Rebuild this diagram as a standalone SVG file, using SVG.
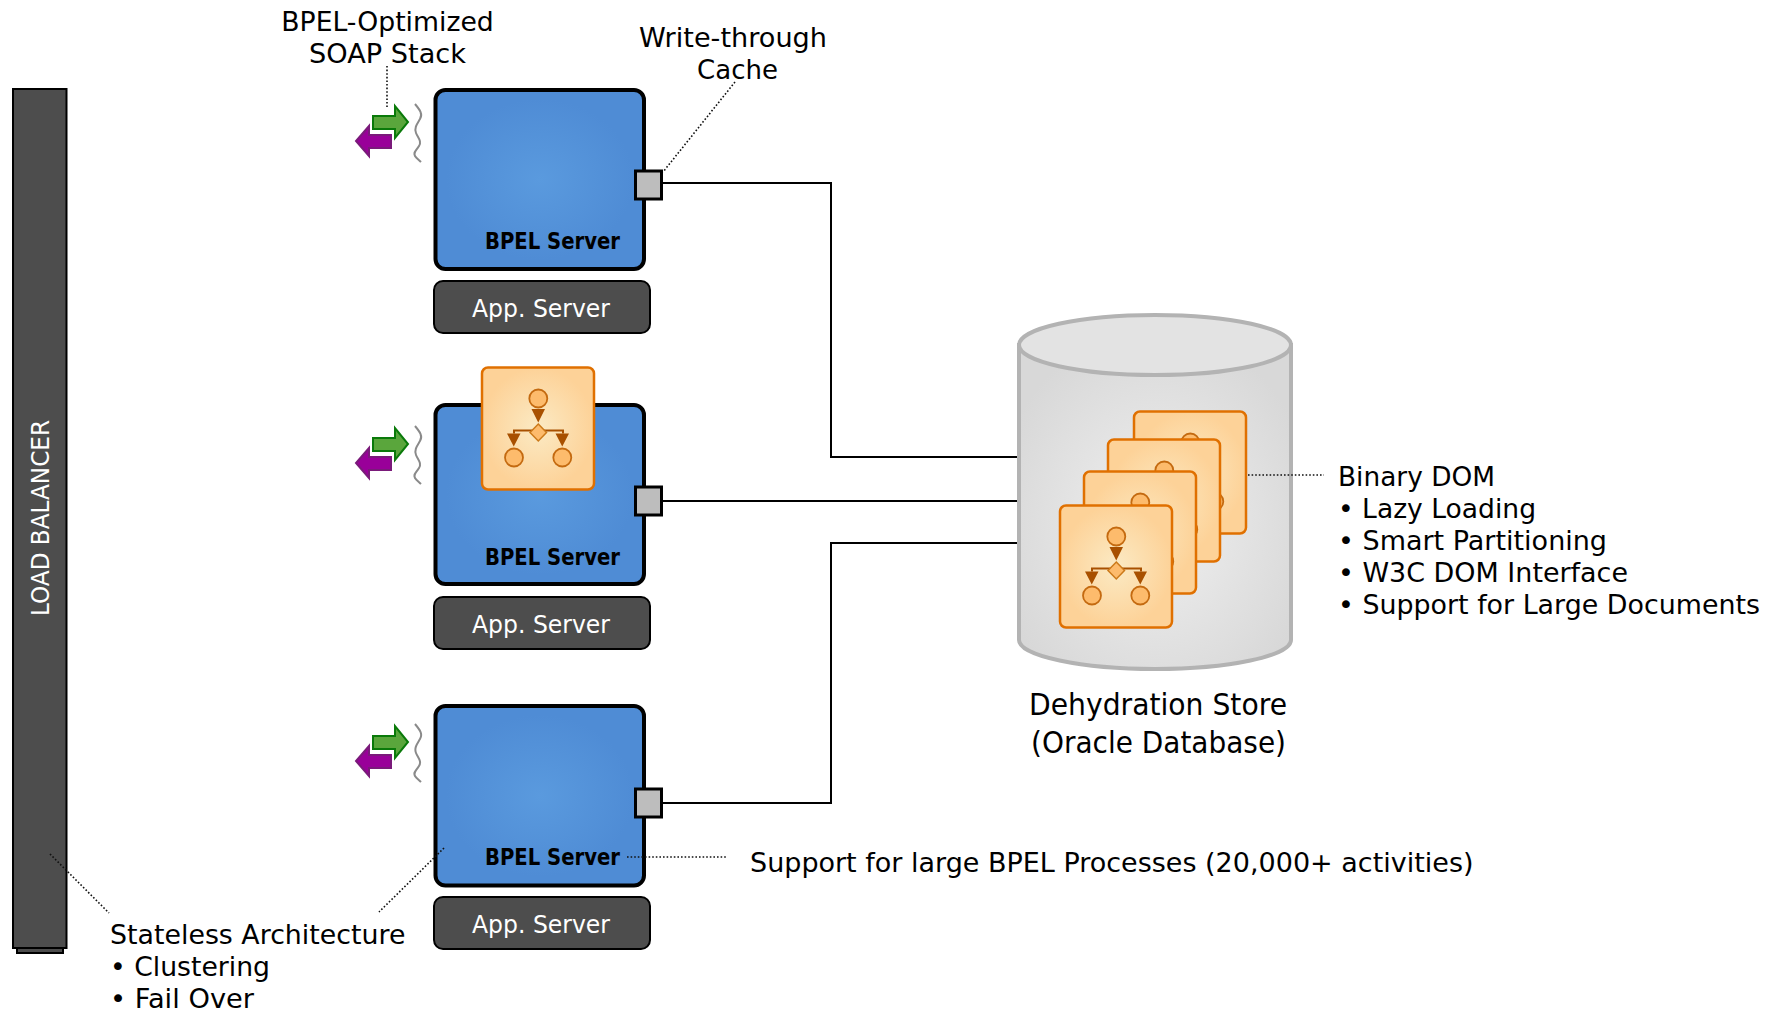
<svg xmlns="http://www.w3.org/2000/svg" xmlns:xlink="http://www.w3.org/1999/xlink" width="1782" height="1011" viewBox="0 0 1782 1011">
<style>
text{font-family:"DejaVu Sans",Verdana,sans-serif;fill:#000}
.l{font-size:26.5px}
.srv{fill:url(#blue);stroke:#000;stroke-width:4}
.app{fill:#4d4d4d;stroke:#000;stroke-width:2}
.port{fill:#bdbdbd;stroke:#000;stroke-width:3}
.wire{fill:none;stroke:#000;stroke-width:2}
.dot{fill:none;stroke:#111;stroke-width:1.6;stroke-dasharray:1.6 2}
.wave{fill:none;stroke:#8a8a8a;stroke-width:2}
.gr{fill:#5aa63c;stroke:#0a7a0a;stroke-width:2}
.pu{fill:#990099;stroke:#7a1a7a;stroke-width:2}
.b{font-size:23px;font-weight:bold}
.w{fill:#fff;font-size:25px}
.d{font-size:31px}
</style>
<defs>
<radialGradient id="blue" r="0.45"><stop offset="0" stop-color="#5a9ade"/><stop offset="1" stop-color="#4f8cd5"/></radialGradient>
<radialGradient id="or"><stop offset="0" stop-color="#fbeac4"/><stop offset="1" stop-color="#fdd298"/></radialGradient>
<radialGradient id="cy" cx="0.5" cy="0.55" r="0.6"><stop offset="0" stop-color="#f0f0f0"/><stop offset="1" stop-color="#d8d8d8"/></radialGradient>
<g id="card">
<rect x="1" y="1" width="112" height="122" rx="6" fill="url(#or)" stroke="#e07000" stroke-width="2.500"/>
<path d="M33 67V64H82V67" fill="none" stroke="#a85000" stroke-width="2"/>
<path d="M50.500 42.500H64L57.250 56ZM26 67H39.500L32.750 80ZM74.500 67H88L81.250 80Z" fill="#a85000"/>
<path d="M57.300 57.500L65.500 66L57.300 74.500L49 66Z" fill="#fdbb6c" stroke="#cc7a1a" stroke-width="1.500"/>
<g fill="#fdbb6c" stroke="#c46a10" stroke-width="1.800"><circle cx="57.300" cy="32" r="9"/><circle cx="33" cy="91" r="9"/><circle cx="81.300" cy="91" r="9"/></g>
</g>
<g id="arrows">
<path class="gr" d="M373 116H395V106L408 122L395 138V129H373Z"/>
<path class="pu" d="M391 135H369V126L356 141L369 156V148H391Z"/>
<path class="wave" d="M415 104C420 110 423 114 420 119C417 124 414 128 416 133C418 138 422 141 419 146C416 151 413 152 415 156C416 158 419 160 421 162"/>
</g>
</defs>
<g id="connectors">
<path class="wire" d="M662 183H831V457H1020"/>
<path class="wire" d="M662 501H1020"/>
<path class="wire" d="M662 803H831V543H1020"/>
</g>
<g id="load-balancer">
<rect x="17" y="946" width="46" height="7" class="app"/>
<rect x="13" y="89" width="53.500" height="859" class="app"/>
<text class="w" transform="translate(49 616) rotate(-90)" textLength="196" lengthAdjust="spacingAndGlyphs">LOAD BALANCER</text>
</g>
<g id="server1">
<use xlink:href="#arrows" href="#arrows"/>
<rect class="srv" x="435.500" y="90" width="208.500" height="179" rx="10"/>
<rect class="port" x="635.500" y="171" width="26" height="28"/>
<text class="b" x="485" y="249" textLength="135" lengthAdjust="spacingAndGlyphs">BPEL Server</text>
</g>
<g id="app1"><rect class="app" x="434" y="281" width="216" height="52" rx="9"/><text class="w" x="541" y="317" text-anchor="middle" textLength="138" lengthAdjust="spacingAndGlyphs">App. Server</text></g>
<g id="server2">
<use xlink:href="#arrows" href="#arrows" y="322"/>
<rect class="srv" x="435.500" y="405" width="208.500" height="179" rx="10"/>
<rect class="port" x="635.500" y="487" width="26" height="28"/>
<text class="b" x="485" y="565" textLength="135" lengthAdjust="spacingAndGlyphs">BPEL Server</text>
<use xlink:href="#card" href="#card" x="481" y="366.500"/>
</g>
<g id="app2"><rect class="app" x="434" y="597" width="216" height="52" rx="9"/><text class="w" x="541" y="633" text-anchor="middle" textLength="138" lengthAdjust="spacingAndGlyphs">App. Server</text></g>
<g id="server3">
<use xlink:href="#arrows" href="#arrows" y="620"/>
<rect class="srv" x="435.500" y="706" width="208.500" height="179.500" rx="10"/>
<rect class="port" x="635.500" y="789" width="26" height="28"/>
<text class="b" x="485" y="865" textLength="135" lengthAdjust="spacingAndGlyphs">BPEL Server</text>
</g>
<g id="app3"><rect class="app" x="434" y="897" width="216" height="52" rx="9"/><text class="w" x="541" y="933" text-anchor="middle" textLength="138" lengthAdjust="spacingAndGlyphs">App. Server</text></g>
<g id="store">
<path d="M1019 345V640C1019 656 1082 669 1155 669C1228 669 1291 656 1291 640V345Z" fill="url(#cy)" stroke="#b3b3b3" stroke-width="4"/>
<ellipse cx="1155" cy="345" rx="136" ry="30" fill="#e3e3e3" stroke="#b3b3b3" stroke-width="4"/>
<use xlink:href="#card" href="#card" x="1133" y="410.500"/>
<use xlink:href="#card" href="#card" x="1107" y="438.500"/>
<use xlink:href="#card" href="#card" x="1083" y="470.500"/>
<use xlink:href="#card" href="#card" x="1059" y="504.500"/>
<text class="d" x="1158" y="715" text-anchor="middle" textLength="258" lengthAdjust="spacingAndGlyphs">Dehydration Store</text>
<text class="d" x="1158.500" y="753" text-anchor="middle" textLength="255" lengthAdjust="spacingAndGlyphs">(Oracle Database)</text>
</g>
<g id="notes">
<path class="dot" d="M387 66V107M735 82L663 172M1248 475H1324M627 857H726M50 854L109 913M444 848L379 912"/>
<text class="l" x="387.500" y="31" text-anchor="middle" textLength="212.500" lengthAdjust="spacingAndGlyphs">BPEL-Optimized</text>
<text class="l" x="387.500" y="63" text-anchor="middle" textLength="157" lengthAdjust="spacingAndGlyphs">SOAP Stack</text>
<text class="l" x="733" y="47" text-anchor="middle" textLength="188" lengthAdjust="spacingAndGlyphs">Write-through</text>
<text class="l" x="737.500" y="79" text-anchor="middle" textLength="81" lengthAdjust="spacingAndGlyphs">Cache</text>
<text class="l" x="1338" y="486" textLength="157" lengthAdjust="spacingAndGlyphs">Binary DOM</text>
<text class="l" x="1338" y="518" textLength="198" lengthAdjust="spacingAndGlyphs">• Lazy Loading</text>
<text class="l" x="1338" y="550" textLength="269" lengthAdjust="spacingAndGlyphs">• Smart Partitioning</text>
<text class="l" x="1338" y="582" textLength="290" lengthAdjust="spacingAndGlyphs">• W3C DOM Interface</text>
<text class="l" x="1338" y="614" textLength="422" lengthAdjust="spacingAndGlyphs">• Support for Large Documents</text>
<text class="l" x="750" y="872" textLength="723.500" lengthAdjust="spacingAndGlyphs">Support for large BPEL Processes (20,000+ activities)</text>
<text class="l" x="110" y="944" textLength="295.500" lengthAdjust="spacingAndGlyphs">Stateless Architecture</text>
<text class="l" x="110" y="976" textLength="160" lengthAdjust="spacingAndGlyphs">• Clustering</text>
<text class="l" x="110" y="1008" textLength="144" lengthAdjust="spacingAndGlyphs">• Fail Over</text>
</g>
</svg>
